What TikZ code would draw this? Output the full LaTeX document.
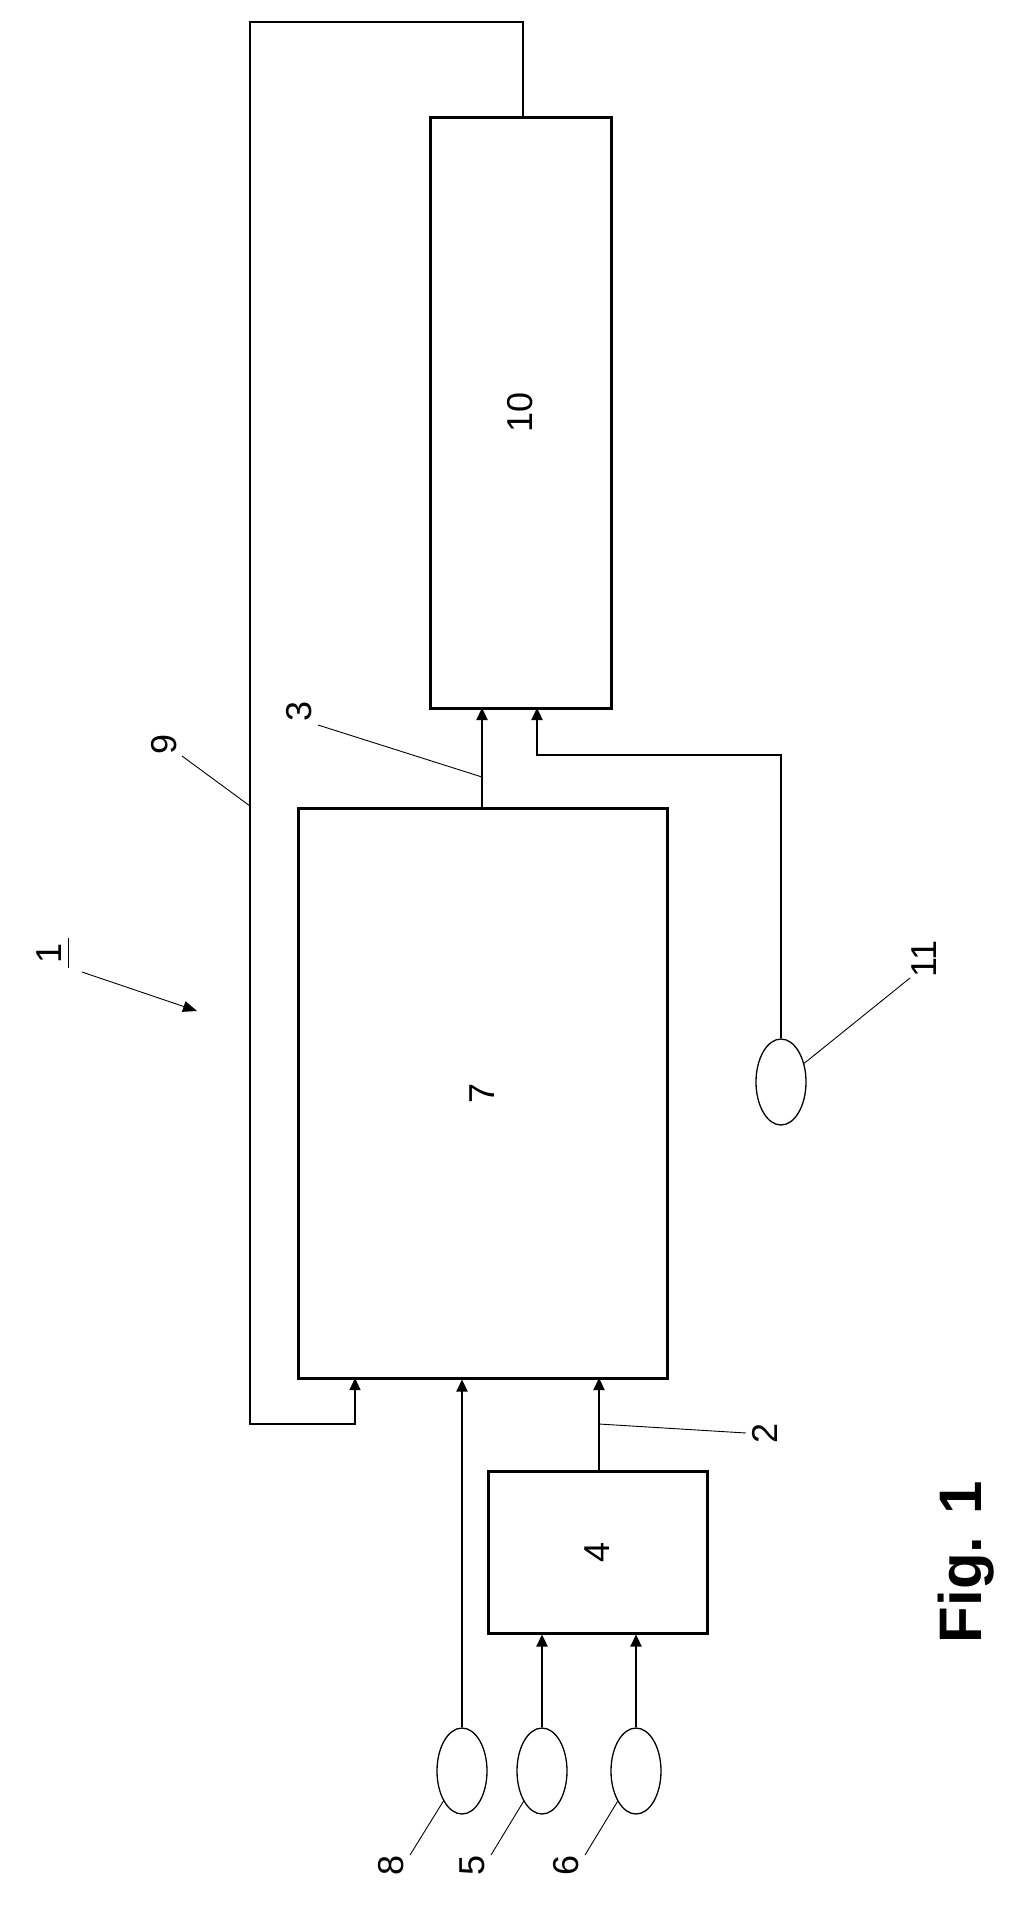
\documentclass[tikz,border=0pt]{standalone}
\usepackage{fontspec}
\setmainfont{Liberation Sans}
\usepackage{tikz}
\usetikzlibrary{shapes.geometric,arrows.meta,positioning,calc}

\begin{document}
\begin{tikzpicture}[x=1pt, y=-1pt,
    unit/.style={rectangle, draw, line width=3pt, inner sep=0pt},
    sensor/.style={ellipse, draw, line width=1.3pt, minimum width=50pt, minimum height=86pt, inner sep=0pt},
    flow/.style={line width=2.4pt, -{Triangle[length=12pt, width=11pt]}},
    leader/.style={line width=0.9pt},
    ref/.style={rotate=90, font=\fontsize{36}{36}\selectfont}]

    \useasboundingbox (0,0) rectangle (1021,1928);

    % Blocks
    \node[unit, minimum width=181pt, minimum height=591pt] (cond) at (520.5,412.5) {};
    \node[ref] at (cond.center) {10};
    \node[unit, minimum width=369pt, minimum height=570pt] (proc) at (482.5,1093) {};
    \node[ref] at (proc.center) {7};
    \node[unit, minimum width=219pt, minimum height=162pt] (pre) at (597.5,1552) {};
    \node[ref] at (pre.center) {4};

    % Sensors
    \node[sensor] (s8) at (462,1771) {};
    \node[sensor] (s5) at (542,1771) {};
    \node[sensor] (s6) at (636,1771) {};
    \node[sensor] (s11) at (781,1082) {};

    % Signal paths
    \draw[flow] (s8.north) -- (s8.north |- proc.south);
    \draw[flow] (s5.north) -- (s5.north |- pre.south);
    \draw[flow] (s6.north) -- (s6.north |- pre.south);
    \coordinate (o2) at (599,1378);
    \draw[flow] (599,1471) coordinate (p2) -- (o2);
    \coordinate (i3) at (482,708);
    \draw[flow] (482,808) coordinate (p3) -- (i3);
    \coordinate (k11) at (781,755);
    \draw[line width=2.4pt, -{Triangle[length=12pt, width=11pt]}]
        (s11.north) -- (k11) -| (537,708);
    \coordinate (f9) at (250,806);
    \draw[line width=1.3pt, -{Triangle[length=12pt, width=11pt]}]
        (523,117) |- (250,22) |- (355,1424) -- (355,1378);

    % Reference labels
    \node[ref] (l9) at (164,744) {9};
    \draw[leader] (182,756) -- (f9);
    \node[ref] (l3) at (299,711) {3};
    \draw[leader] (318,725) -- (482,777);
    \node[ref] (l2) at (765,1433) {2};
    \draw[leader] (746,1433) -- (599,1424);
    \node[ref] (l11) at (924,959) {11};
    \draw[leader] (910,978) -- (s11);
    \node[ref] (l8) at (391,1865) {8};
    \draw[leader] (410,1855) -- (s8);
    \node[ref] (l5) at (472,1865) {5};
    \draw[leader] (491,1855) -- (s5);
    \node[ref] (l6) at (566,1865) {6};
    \draw[leader] (585,1855) -- (s6);

    % System reference
    \node[ref] (l1) at (49,953) {1};
    \draw[leader] (68,938) -- (68,968);
    \draw[leader, -{Triangle[length=14pt, width=11pt]}] (82,972) -- (197,1011);

    \node[rotate=90, font=\bfseries\fontsize{60}{60}\selectfont] (fig) at (966,1562) {Fig. 1};
\end{tikzpicture}
\end{document}
